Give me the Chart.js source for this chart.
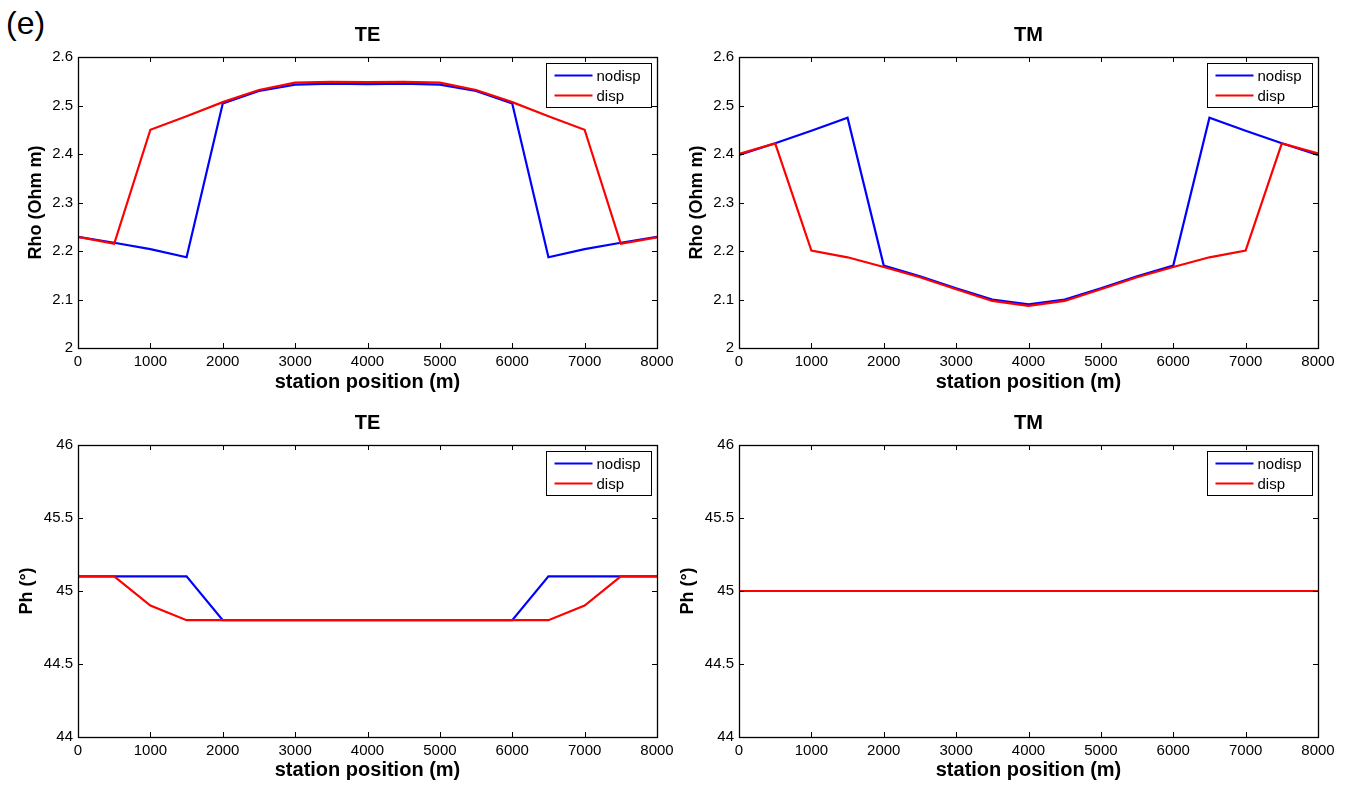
<!DOCTYPE html>
<html>
<head>
<meta charset="utf-8">
<script src="https://cdn.jsdelivr.net/npm/chart.js@4.4.1/dist/chart.umd.min.js"></script>
<style>
  body { margin: 0; background: #fff; }
  #fig { position: relative; width: 1350px; height: 785px; overflow: hidden; background: #fff; }
  #fig canvas { position: absolute; }
  #panelTag { position: absolute; left: 6px; top: 7px; font: 32px "Liberation Sans", Arial, sans-serif; line-height: 1; }
</style>
</head>
<body>
<div id="fig">
  <div id="panelTag">(e)</div>
  <canvas id="teRho" width="689" height="395" style="left:0;top:0"></canvas>
  <canvas id="tmRho" width="689" height="395" style="left:661px;top:0"></canvas>
  <canvas id="tePh" width="689" height="390" style="left:0;top:395px"></canvas>
  <canvas id="tmPh" width="689" height="390" style="left:661px;top:395px"></canvas>
</div>
<script>
// station positions (m)
const stations = [0, 500, 1000, 1500, 2000, 2500, 3000, 3500, 4000, 4500, 5000, 5500, 6000, 6500, 7000, 7500, 8000];

// TE apparent resistivity (log10 Ohm m)
const teRhoNodisp = [2.229, 2.217, 2.204, 2.187, 2.504, 2.530, 2.543, 2.545, 2.544, 2.545, 2.543, 2.530, 2.504, 2.187, 2.204, 2.217, 2.229];
const teRhoDisp   = [2.229, 2.215, 2.450, 2.478, 2.507, 2.532, 2.547, 2.549, 2.548, 2.549, 2.547, 2.532, 2.507, 2.478, 2.450, 2.215, 2.228];

// TM apparent resistivity
const tmRhoNodisp = [2.398, 2.422, 2.448, 2.475, 2.170, 2.148, 2.123, 2.100, 2.090, 2.100, 2.123, 2.148, 2.170, 2.475, 2.448, 2.422, 2.398];
const tmRhoDisp   = [2.400, 2.422, 2.201, 2.187, 2.167, 2.146, 2.121, 2.097, 2.087, 2.097, 2.121, 2.146, 2.167, 2.187, 2.201, 2.422, 2.401];

// phases (degrees)
const tePhNodisp = [45.1, 45.1, 45.1, 45.1, 44.8, 44.8, 44.8, 44.8, 44.8, 44.8, 44.8, 44.8, 44.8, 45.1, 45.1, 45.1, 45.1];
const tePhDisp   = [45.1, 45.1, 44.9, 44.8, 44.8, 44.8, 44.8, 44.8, 44.8, 44.8, 44.8, 44.8, 44.8, 44.8, 44.9, 45.1, 45.1];
const tmPhNodisp = [45, 45, 45, 45, 45, 45, 45, 45, 45, 45, 45, 45, 45, 45, 45, 45, 45];
const tmPhDisp   = [45, 45, 45, 45, 45, 45, 45, 45, 45, 45, 45, 45, 45, 45, 45, 45, 45];

const seriesNames = ['nodisp', 'disp'];
const seriesColors = ['#0000ff', '#ff0000'];

Chart.defaults.font.family = '"Liberation Sans", Arial, Helvetica, sans-serif';
Chart.defaults.color = '#000';

const toPoints = vals => vals.map((v, i) => ({ x: stations[i], y: v }));

// matlab style box with inward ticks on all four sides
const boxPlugin = {
  id: 'matlabBox',
  afterDraw(chart) {
    const { ctx, chartArea: { left, right, top, bottom }, scales: { x, y } } = chart;
    ctx.save();
    ctx.strokeStyle = '#000';
    ctx.lineWidth = 1;
    ctx.beginPath();
    x.ticks.forEach(t => {
      const px = Math.round(x.getPixelForValue(t.value)) + 0.5;
      ctx.moveTo(px, bottom); ctx.lineTo(px, bottom - 5);
      ctx.moveTo(px, top); ctx.lineTo(px, top + 5);
    });
    y.ticks.forEach(t => {
      const py = Math.round(y.getPixelForValue(t.value)) + 0.5;
      ctx.moveTo(left, py); ctx.lineTo(left + 5, py);
      ctx.moveTo(right, py); ctx.lineTo(right - 5, py);
    });
    ctx.stroke();
    ctx.lineWidth = 1.3;
    ctx.strokeRect(Math.round(left) + 0.5, Math.round(top) + 0.5, Math.round(right - left), Math.round(bottom - top));
    ctx.restore();
  }
};

// legend box in the upper right corner
const legendPlugin = {
  id: 'boxLegend',
  afterDraw(chart) {
    const { ctx, chartArea } = chart;
    const w = 105, h = 44;
    const bx = Math.round(chartArea.right - 6 - w) + 0.5;
    const by = Math.round(chartArea.top + 6) + 0.5;
    ctx.save();
    ctx.fillStyle = '#fff';
    ctx.fillRect(bx, by, w, h);
    ctx.strokeStyle = '#000';
    ctx.lineWidth = 1;
    ctx.strokeRect(bx, by, w, h);
    ctx.font = '15px "Liberation Sans", Arial, sans-serif';
    ctx.textBaseline = 'middle';
    chart.data.datasets.forEach((ds, i) => {
      const ry = by + 12 + i * 20;
      ctx.strokeStyle = ds.borderColor;
      ctx.lineWidth = 2;
      ctx.beginPath();
      ctx.moveTo(bx + 8, ry);
      ctx.lineTo(bx + 46, ry);
      ctx.stroke();
      ctx.fillStyle = '#000';
      ctx.fillText(ds.label, bx + 50, ry + 1);
    });
    ctx.restore();
  }
};

function makePanel(id, title, yLabel, nodisp, disp, yMin, yMax, yStep, topRow) {
  const xHeight = topRow ? 47 : 48;
  new Chart(document.getElementById(id), {
    type: 'line',
    data: {
      datasets: [
        { label: seriesNames[0], data: toPoints(nodisp), borderColor: seriesColors[0], borderWidth: 2.2, pointRadius: 0, order: 1 },
        { label: seriesNames[1], data: toPoints(disp), borderColor: seriesColors[1], borderWidth: 2.2, pointRadius: 0, order: 0 }
      ]
    },
    options: {
      responsive: false,
      animation: false,
      layout: { padding: { left: 0, right: 32, top: 0, bottom: 0 } },
      plugins: {
        legend: { display: false },
        tooltip: { enabled: false },
        title: {
          display: true,
          text: title,
          fullSize: false,
          font: { size: 20, weight: 'bold' },
          padding: topRow ? { top: 23, bottom: 10 } : { top: 16, bottom: 10 }
        }
      },
      scales: {
        x: {
          type: 'linear',
          min: 0, max: 8000,
          grid: { display: false, drawTicks: false },
          border: { display: false },
          ticks: { stepSize: 1000, padding: 5, font: { size: 15 }, maxRotation: 0, callback: v => String(v) },
          title: { display: true, text: 'station position (m)', font: { size: 20, weight: 'bold' }, padding: { top: 0, bottom: topRow ? 1 : 3 } },
          afterFit: s => { s.height = xHeight; }
        },
        y: {
          min: yMin, max: yMax,
          grid: { display: false, drawTicks: false },
          border: { display: false },
          ticks: { stepSize: yStep, padding: 5, font: { size: 15 }, callback: v => String(Number(v.toFixed(2))) },
          title: { display: true, text: yLabel, font: { size: 18, weight: 'bold' }, padding: { top: topRow ? 25 : 16, bottom: 0 } },
          afterFit: s => { s.width = 78; }
        }
      }
    },
    plugins: [boxPlugin, legendPlugin]
  });
}

makePanel('teRho', 'TE', 'Rho (Ohm m)', teRhoNodisp, teRhoDisp, 2, 2.6, 0.1, true);
makePanel('tmRho', 'TM', 'Rho (Ohm m)', tmRhoNodisp, tmRhoDisp, 2, 2.6, 0.1, true);
makePanel('tePh', 'TE', 'Ph (°)', tePhNodisp, tePhDisp, 44, 46, 0.5, false);
makePanel('tmPh', 'TM', 'Ph (°)', tmPhNodisp, tmPhDisp, 44, 46, 0.5, false);
</script>
</body>
</html>
